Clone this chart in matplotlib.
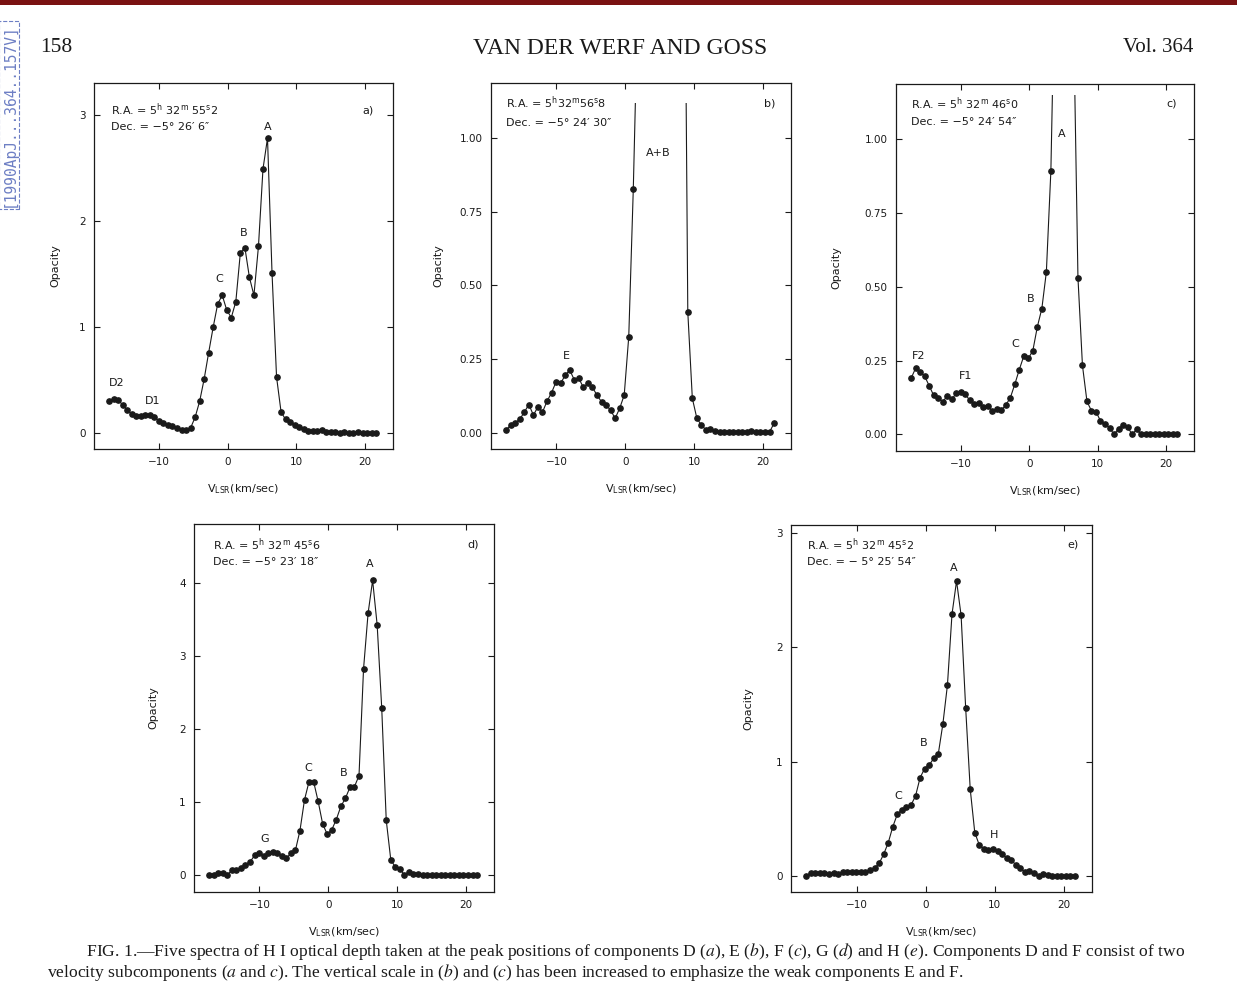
import matplotlib.pyplot as plt
from matplotlib.patches import Rectangle

# channel velocities (km/s), shared by all five spectra
VLSR = [-17.30, -16.64, -15.98, -15.32, -14.66, -14.00, -13.34, -12.68, -12.02, -11.36,
        -10.70, -10.04, -9.38, -8.72, -8.06, -7.40, -6.74, -6.08, -5.42, -4.76,
        -4.10, -3.44, -2.78, -2.12, -1.46, -0.80, -0.14, 0.52, 1.18, 1.84,
        2.50, 3.16, 3.82, 4.48, 5.14, 5.80, 6.46, 7.12, 7.78, 8.44,
        9.10, 9.76, 10.42, 11.08, 11.74, 12.40, 13.06, 13.72, 14.38, 15.04,
        15.70, 16.36, 17.02, 17.68, 18.34, 19.00, 19.66, 20.32, 20.98, 21.64]

# H I opacity, component D
TAU_A = [0.30, 0.32, 0.31, 0.27, 0.22, 0.18, 0.16, 0.16, 0.17, 0.17,
         0.15, 0.12, 0.10, 0.08, 0.07, 0.05, 0.03, 0.03, 0.05, 0.15,
         0.30, 0.51, 0.76, 1.00, 1.22, 1.30, 1.16, 1.09, 1.24, 1.70,
         1.75, 1.47, 1.30, 1.76, 2.49, 2.78, 1.51, 0.53, 0.20, 0.13,
         0.11, 0.08, 0.06, 0.04, 0.02, 0.02, 0.02, 0.03, 0.01, 0.01,
         0.01, 0.00, 0.01, 0.00, 0.00, 0.01, 0.00, 0.00, 0.00, 0.00]

# component E (A+B runs off the top of the scale)
TAU_B = [0.010, 0.026, 0.034, 0.046, 0.070, 0.096, 0.060, 0.088, 0.070, 0.107,
         0.136, 0.173, 0.168, 0.195, 0.213, 0.180, 0.185, 0.154, 0.168, 0.154,
         0.128, 0.105, 0.094, 0.077, 0.049, 0.083, 0.128, 0.326, 0.827, 1.47,
         2.00, 2.40, 2.70, 2.80, 2.80, 2.70, 2.60, 2.50, 2.45, 2.40,
         0.410, 0.117, 0.049, 0.026, 0.010, 0.012, 0.005, 0.003, 0.002, 0.002,
         0.002, 0.002, 0.003, 0.004, 0.005, 0.002, 0.002, 0.002, 0.003, 0.032]

# component F
TAU_C = [0.190, 0.224, 0.212, 0.198, 0.166, 0.133, 0.125, 0.111, 0.130, 0.119,
         0.139, 0.145, 0.137, 0.116, 0.103, 0.107, 0.092, 0.096, 0.080, 0.085,
         0.082, 0.100, 0.124, 0.170, 0.220, 0.266, 0.258, 0.284, 0.365, 0.427,
         0.551, 0.894, 1.66, 2.20, 2.40, 2.00, 1.44, 0.532, 0.234, 0.112,
         0.080, 0.077, 0.046, 0.035, 0.023, 0.000, 0.020, 0.032, 0.026, 0.000,
         0.017, 0.000, 0.000, 0.000, 0.000, 0.000, 0.000, 0.000, 0.000, 0.000]

# component G
TAU_D = [0.00, 0.00, 0.03, 0.03, 0.00, 0.07, 0.07, 0.10, 0.14, 0.18,
         0.27, 0.30, 0.26, 0.30, 0.31, 0.30, 0.26, 0.23, 0.30, 0.34,
         0.61, 1.03, 1.28, 1.28, 1.01, 0.70, 0.56, 0.62, 0.76, 0.94,
         1.05, 1.20, 1.21, 1.36, 2.82, 3.58, 4.03, 3.42, 2.29, 0.75,
         0.21, 0.11, 0.09, 0.00, 0.04, 0.01, 0.01, 0.00, 0.00, 0.00,
         0.00, 0.00, 0.00, 0.00, 0.00, 0.00, 0.00, 0.00, 0.00, 0.00]

# component H
TAU_E = [0.000, 0.026, 0.030, 0.026, 0.026, 0.020, 0.026, 0.020, 0.035, 0.035,
         0.035, 0.035, 0.035, 0.035, 0.050, 0.070, 0.110, 0.190, 0.290, 0.430,
         0.540, 0.580, 0.600, 0.620, 0.700, 0.860, 0.940, 0.970, 1.030, 1.070,
         1.330, 1.670, 2.290, 2.580, 2.280, 1.470, 0.760, 0.380, 0.270, 0.240,
         0.230, 0.240, 0.220, 0.195, 0.157, 0.137, 0.100, 0.070, 0.035, 0.040,
         0.026, 0.000, 0.020, 0.006, 0.000, 0.000, 0.000, 0.000, 0.000, 0.000]

plt.rcParams['font.family'] = ['DejaVu Sans']
plt.rcParams['mathtext.fontset'] = 'dejavusans'
SERIF = ['Liberation Serif', 'DejaVu Serif']
INK = '#1a1a1a'

W, H = 1237, 992
fig = plt.figure(figsize=(W / 100, H / 100), dpi=100)


def box(left, top, right, bottom):
    return [left / W, 1 - bottom / H, (right - left) / W, (bottom - top) / H]


def spectrum(rect, tau, ylim, yticks, yfmt, ra, dec, tag, pos, peaks,
             clip_top=None, ylab_dx=36):
    ax = fig.add_axes(rect)
    line, = ax.plot(VLSR, tau, '-o', color=INK, lw=0.8, ms=3.8)
    if clip_top is not None:
        # off-scale part of the strong line is cut just below the frame
        line.set_clip_path(Rectangle((-40, -5), 80, clip_top + 5,
                                     transform=ax.transData))
    ax.set_xlim(-19.5, 24.1)
    ax.set_ylim(*ylim)
    ax.set_xticks([-10, 0, 10, 20])
    ax.set_yticks(yticks)
    ax.set_yticklabels([yfmt.format(t) for t in yticks])
    ax.tick_params(direction='in', top=True, right=True, length=4, width=0.8,
                   labelsize=7.5, pad=6, colors=INK)
    for s in ax.spines.values():
        s.set_linewidth(0.9)
        s.set_color(INK)
    ax.set_ylabel('Opacity', fontsize=8, color=INK)
    ax.set_xlabel(r'V$_{\rm LSR}$(km/sec)', fontsize=8, color=INK)
    h_px = rect[3] * H
    w_px = rect[2] * W
    ax.yaxis.set_label_coords(-ylab_dx / w_px, 0.5)
    ax.xaxis.set_label_coords(0.5, -33 / h_px)
    tx, ty_ra, ty_dec, tag_x = pos
    ax.text(tx, ty_ra, ra, transform=ax.transAxes, va='center', fontsize=8, color=INK)
    ax.text(tx, ty_dec, dec, transform=ax.transAxes, va='center', fontsize=8, color=INK)
    ax.text(tag_x, ty_ra, tag, transform=ax.transAxes, va='center', ha='center',
            fontsize=8, color=INK)
    for lab, x, y in peaks:
        ax.text(x, y, lab, ha='center', va='center', fontsize=8, color=INK)
    return ax


spectrum(box(94, 83, 393, 449), TAU_A, (-0.148, 3.30), [0, 1, 2, 3], '{:g}',
         r'R.A. = 5$^{\rm h}$ 32$^{\rm m}$ 55$^{\rm s}$2', 'Dec. = −5° 26′ 6″', 'a)',
         (0.057, 0.926, 0.881, 0.916),
         [('D2', -16.2, 0.47), ('D1', -10.9, 0.30), ('C', -1.2, 1.45),
          ('B', 2.3, 1.89), ('A', 5.8, 2.89)], ylab_dx=34)

spectrum(box(491, 83, 791, 449), TAU_B, (-0.055, 1.187), [0, 0.25, 0.5, 0.75, 1.0],
         '{:.2f}', r'R.A. = 5$^{\rm h}$32$^{\rm m}$56$^{\rm s}$8', 'Dec. = −5° 24′ 30″', 'b)',
         (0.05, 0.945, 0.89, 0.93),
         [('E', -8.5, 0.26), ('A+B', 4.8, 0.95)], clip_top=1.12, ylab_dx=48)

spectrum(box(896, 84, 1194, 451), TAU_C, (-0.056, 1.188), [0, 0.25, 0.5, 0.75, 1.0],
         '{:.2f}', r'R.A. = 5$^{\rm h}$ 32$^{\rm m}$ 46$^{\rm s}$0', 'Dec. = −5° 24′ 54″', 'c)',
         (0.05, 0.946, 0.896, 0.926),
         [('F2', -16.2, 0.265), ('F1', -9.3, 0.198), ('C', -2.0, 0.306),
          ('B', 0.25, 0.458), ('A', 4.8, 1.017)], clip_top=1.15, ylab_dx=55)

spectrum(box(194, 524, 494, 892), TAU_D, (-0.23, 4.80), [0, 1, 2, 3, 4], '{:g}',
         r'R.A. = 5$^{\rm h}$ 32$^{\rm m}$ 45$^{\rm s}$6', 'Dec. = −5° 23′ 18″', 'd)',
         (0.063, 0.943, 0.897, 0.93),
         [('G', -9.2, 0.50), ('C', -2.9, 1.47), ('B', 2.3, 1.40), ('A', 6.1, 4.25)])

spectrum(box(791, 525, 1092, 892), TAU_E, (-0.14, 3.07), [0, 1, 2, 3], '{:g}',
         r'R.A. = 5$^{\rm h}$ 32$^{\rm m}$ 45$^{\rm s}$2', 'Dec. = − 5° 25′ 54″', 'e)',
         (0.053, 0.946, 0.90, 0.937),
         [('A', 4.1, 2.69), ('B', -0.25, 1.16), ('C', -4.0, 0.70), ('H', 9.9, 0.36)],
         ylab_dx=38)

# running head
fig.text(40 / W, 1 - 48 / H, '158', family=SERIF, fontsize=15.5, va='center', color=INK)
fig.text(620 / W, 1 - 48 / H, 'VAN DER WERF AND GOSS', family=SERIF, fontsize=17,
         va='center', ha='center', color=INK)
fig.text(1193 / W, 1 - 48 / H, 'Vol. 364', family=SERIF, fontsize=15, va='center',
         ha='right', color=INK)

# caption, first line indented
cap1 = (r'         FIG. 1.—Five spectra of H I optical depth taken at the peak positions of '
        r'components D ($\it{a}$), E ($\it{b}$), F ($\it{c}$), G ($\it{d}$) and H ($\it{e}$). '
        r'Components D and F consist of two')
cap2 = (r'velocity subcomponents ($\it{a}$ and $\it{c}$). The vertical scale in ($\it{b}$) '
        r'and ($\it{c}$) has been increased to emphasize the weak components E and F.')
fig.text(47 / W, 1 - 962 / H, cap1 + '\n' + cap2, family=SERIF, fontsize=12.6,
         va='center', ha='left', multialignment='left', linespacing=1.0, color=INK,
         math_fontfamily='stix')

# bibcode stamp and top rule
fig.text(9 / W, 1 - 115 / H, '[1990ApJ...364..157V]', rotation=90, ha='center',
         va='center', family='DejaVu Sans Mono', fontsize=10.5, color='#6d7fc4',
         bbox=dict(boxstyle='square,pad=0.15', fc='none', ec='#6d7fc4', ls='--', lw=0.8))
fig.add_artist(Rectangle((0, 1 - 5 / H), 1, 5 / H, transform=fig.transFigure,
                         color='#7a1212', lw=0))

fig.savefig('out.png', dpi=100)
